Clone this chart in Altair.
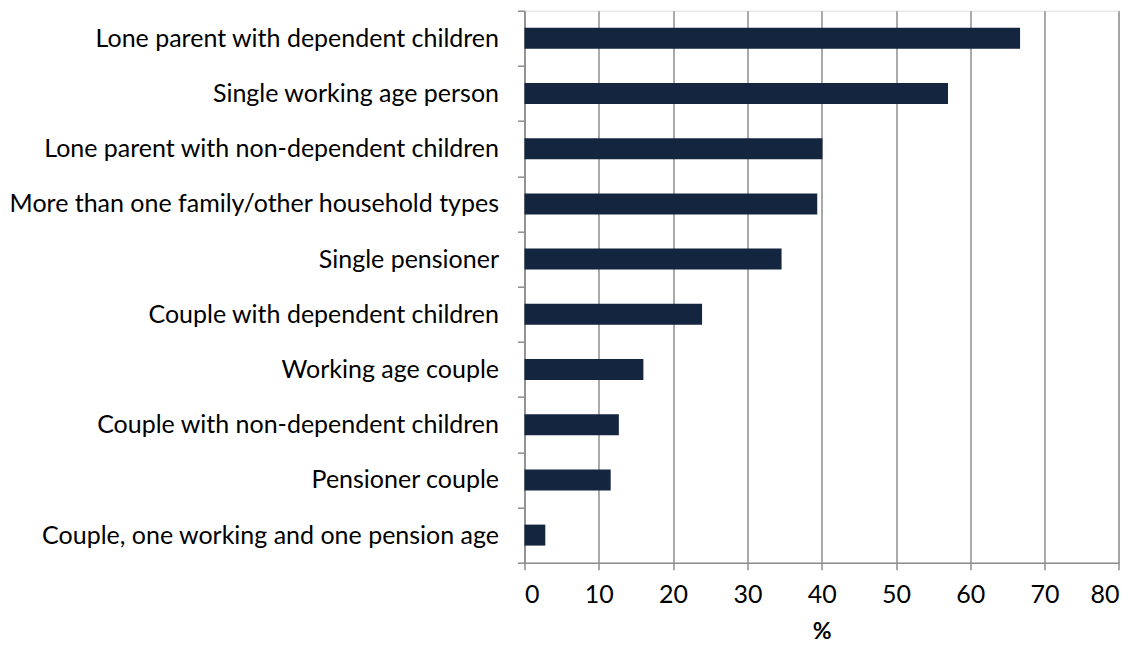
import altair as alt
import pandas as pd

categories = [
    "Lone parent with dependent children",
    "Single working age person",
    "Lone parent with non-dependent children",
    "More than one family/other household types",
    "Single pensioner",
    "Couple with dependent children",
    "Working age couple",
    "Couple with non-dependent children",
    "Pensioner couple",
    "Couple, one working and one pension age",
]
values = [66.7, 57.0, 40.1, 39.4, 34.6, 23.9, 16.0, 12.7, 11.6, 2.8]
x_ticks = [0, 10, 20, 30, 40, 50, 60, 70, 80]

df = pd.DataFrame({"category": categories, "value": values})

FONT = "Lato"
GRID = "#8e8e8e"

chart = (
    alt.Chart(df)
    .mark_bar(color="#13253f", height={"band": 0.38})
    .encode(
        x=alt.X(
            "value:Q",
            scale=alt.Scale(domain=[0, 80], nice=False, zero=True),
            axis=alt.Axis(
                values=x_ticks,
                title="%",
                titleFont=FONT,
                titleFontSize=23,
                titleFontWeight="bold",
                titleColor="black",
                titlePadding=13,
                labelFont=FONT,
                labelFontSize=25,
                labelColor="black",
                labelPadding=13,
                tickSize=7,
                tickColor=GRID,
                tickWidth=1.5,
                domainColor=GRID,
                domainWidth=1.5,
                grid=True,
                gridColor=GRID,
                gridWidth=1.5,
            ),
        ),
        y=alt.Y(
            "category:N",
            sort=categories,
            scale=alt.Scale(paddingInner=0, paddingOuter=0),
            axis=alt.Axis(
                title=None,
                labelFont=FONT,
                labelFontSize=25,
                labelColor="black",
                labelPadding=19,
                labelLimit=0,
                tickSize=7,
                tickColor=GRID,
                tickWidth=1.5,
                tickBand="extent",
                domainColor=GRID,
                domainWidth=1.5,
                grid=False,
            ),
        ),
    )
    .properties(
        width=594.4,
        height=552,
        autosize=alt.AutoSizeParams(type="none"),
        padding={"left": 516.5, "top": 2.7, "right": 10, "bottom": 82},
    )
    .configure_view(stroke=None)
    .configure(background="white")
)

chart.save("out.html", embed_options={"renderer": "svg", "actions": False})
